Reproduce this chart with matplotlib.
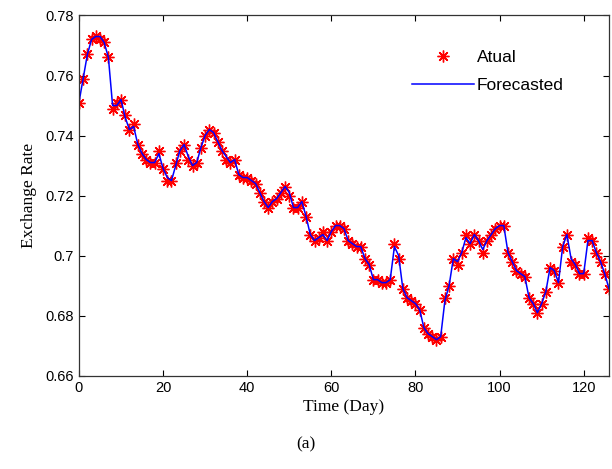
import matplotlib.pyplot as plt

# exchange rate, one value per day
days = list(range(127))

actual = [
    0.751, 0.759, 0.767, 0.772, 0.773, 0.772, 0.771, 0.766, 0.749, 0.751,
    0.752, 0.747, 0.742, 0.744, 0.737, 0.734, 0.732, 0.731, 0.731, 0.735,
    0.729, 0.725, 0.725, 0.731, 0.735, 0.737, 0.732, 0.730, 0.731, 0.736,
    0.740, 0.742, 0.741, 0.738, 0.735, 0.732, 0.731, 0.732, 0.727, 0.726,
    0.726, 0.725, 0.724, 0.721, 0.718, 0.716, 0.718, 0.719, 0.721, 0.723,
    0.720, 0.716, 0.716, 0.718, 0.713, 0.707, 0.705, 0.706, 0.708, 0.705,
    0.708, 0.710, 0.710, 0.709, 0.705, 0.704, 0.703, 0.703, 0.699, 0.697,
    0.692, 0.692, 0.691, 0.691, 0.692, 0.704, 0.699, 0.689, 0.686, 0.685,
    0.684, 0.682, 0.676, 0.674, 0.673, 0.672, 0.673, 0.686, 0.690, 0.699,
    0.697, 0.701, 0.707, 0.704, 0.707, 0.705, 0.701, 0.705, 0.707, 0.709,
    0.710, 0.710, 0.701, 0.698, 0.695, 0.694, 0.693, 0.686, 0.684, 0.681,
    0.684, 0.688, 0.696, 0.695, 0.691, 0.703, 0.707, 0.698, 0.697, 0.694,
    0.694, 0.706, 0.705, 0.701, 0.698, 0.694, 0.689,
]

forecasted = [
    0.751, 0.759, 0.767, 0.772, 0.773, 0.773, 0.771, 0.766, 0.750, 0.750,
    0.752, 0.746, 0.742, 0.743, 0.737, 0.734, 0.732, 0.731, 0.731, 0.734,
    0.729, 0.726, 0.725, 0.730, 0.735, 0.737, 0.733, 0.730, 0.731, 0.736,
    0.740, 0.742, 0.741, 0.738, 0.735, 0.733, 0.731, 0.732, 0.727, 0.726,
    0.726, 0.725, 0.724, 0.721, 0.718, 0.716, 0.718, 0.719, 0.721, 0.723,
    0.721, 0.716, 0.716, 0.718, 0.713, 0.707, 0.705, 0.706, 0.707, 0.705,
    0.708, 0.710, 0.710, 0.709, 0.705, 0.704, 0.703, 0.703, 0.699, 0.697,
    0.692, 0.692, 0.691, 0.691, 0.692, 0.703, 0.700, 0.689, 0.686, 0.685,
    0.684, 0.682, 0.676, 0.674, 0.673, 0.672, 0.673, 0.685, 0.690, 0.699,
    0.698, 0.701, 0.706, 0.704, 0.707, 0.705, 0.702, 0.705, 0.707, 0.709,
    0.710, 0.710, 0.701, 0.698, 0.695, 0.694, 0.693, 0.686, 0.684, 0.681,
    0.684, 0.688, 0.696, 0.695, 0.691, 0.703, 0.707, 0.699, 0.697, 0.694,
    0.694, 0.705, 0.705, 0.701, 0.698, 0.694, 0.689,
]

sans = "Liberation Sans"
serif = "Liberation Serif"

fig = plt.figure(figsize=(6.12, 4.69), dpi=100)
ax = fig.add_axes([0.129, 0.199, 0.866, 0.768])

# MATLAB-style '*' : eight spoke asterisk
ax.plot(days, actual, linestyle="none", marker=(8, 2, 0), color="red",
        markersize=8.5, markeredgewidth=1.0, label="Atual")
ax.plot(days, forecasted, "-", color="blue", linewidth=1.1, label="Forecasted")

ax.set_xlim(0, 126)
ax.set_ylim(0.66, 0.78)
ax.set_xticks([0, 20, 40, 60, 80, 100, 120])
ax.set_yticks([0.66, 0.68, 0.70, 0.72, 0.74, 0.76, 0.78])
ax.set_yticklabels(["0.66", "0.68", "0.7", "0.72", "0.74", "0.76", "0.78"])
ax.tick_params(direction="in", top=True, right=True, length=4, width=0.8,
               labelsize=10.5)
for lab in ax.get_xticklabels() + ax.get_yticklabels():
    lab.set_fontfamily(sans)
for s in ax.spines.values():
    s.set_linewidth(0.9)
    s.set_color("#333333")

ax.set_xlabel("Time (Day)", fontfamily=serif, fontsize=12.5, labelpad=3)
ax.set_ylabel("Exchange Rate", fontfamily=serif, fontsize=12.5, labelpad=6)

leg = ax.legend(loc="upper right", frameon=False, bbox_to_anchor=(0.915, 0.905),
                borderaxespad=0, borderpad=0,
                prop={"family": sans, "size": 12.5}, handlelength=3.6,
                handletextpad=0.15, labelspacing=0.75)

fig.text(0.5, 0.045, "(a)", ha="center", fontfamily=serif, fontsize=12.5)

fig.savefig("out.png", dpi=100)
